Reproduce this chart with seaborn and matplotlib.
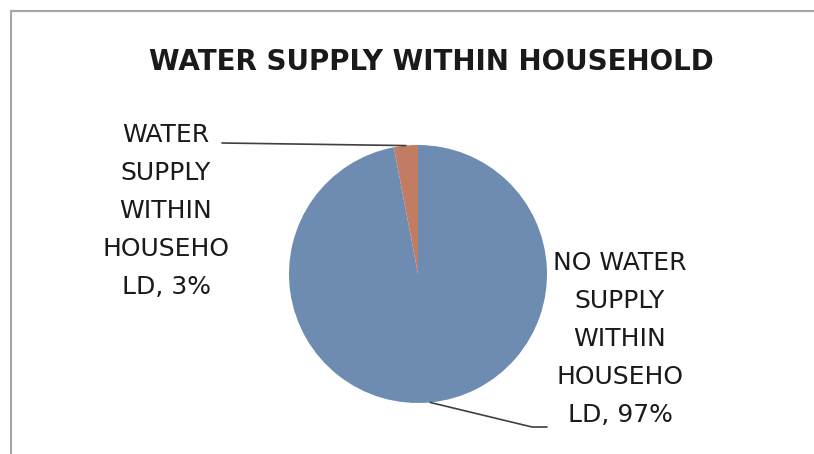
import numpy as np
import matplotlib
matplotlib.use("Agg")
import matplotlib.pyplot as plt
import seaborn as sns
from matplotlib.lines import Line2D

# Data
categories = ["NO WATER SUPPLY WITHIN HOUSEHOLD", "WATER SUPPLY WITHIN HOUSEHOLD"]
shares = [97, 3]
label_texts = ["NO WATER\nSUPPLY\nWITHIN\nHOUSEHO\nLD, 97%", "WATER\nSUPPLY\nWITHIN\nHOUSEHO\nLD, 3%"]
title = "WATER SUPPLY WITHIN HOUSEHOLD"

sns.set_theme(style="white")
plt.rcParams['font.family'] = ['DejaVu Sans']
colors = sns.color_palette(["#6E8BB1", "#C27C64"])

W, H = 814, 454
fig = plt.figure(figsize=(W / 100, H / 100), dpi=100)
fig.patch.set_facecolor("white")
ax = fig.add_axes([0, 0, 1, 1])

cx, cy, r = 418, H - 274, 129
wedges, _ = ax.pie(shares, colors=colors, startangle=90, counterclock=False,
                   center=(cx, cy), radius=r,
                   wedgeprops=dict(linewidth=0))
ax.set_xlim(0, W)
ax.set_ylim(0, H)
ax.set_aspect("equal")
ax.axis("off")

# leader anchors from wedge mid-angles
def anchor(w):
    a = np.deg2rad((w.theta1 + w.theta2) / 2)
    return cx + r * np.cos(a), cy + r * np.sin(a)

# right label (97%)
ax.text(620, H - 339, label_texts[0], ha="center", va="center", fontsize=18,
        linespacing=1.74, color="#1a1a1a")
ax0 = anchor(wedges[0])
ax.plot([ax0[0], 532, 547], [ax0[1], H - 427, H - 427], color="#404040", lw=1.2)

# left label (3%)
ax.text(166, H - 211, label_texts[1], ha="center", va="center", fontsize=18,
        linespacing=1.74, color="#1a1a1a")
ax1 = anchor(wedges[1])
ax.plot([222, ax1[0]], [H - 143, ax1[1]], color="#404040", lw=1.2)

ax.text(431, H - 62, title, ha="center", va="center", fontsize=20,
        fontweight="bold", color="#1a1a1a")

# chart border (top and left visible)
fig.add_artist(Line2D([11 / W, 1], [1 - 11 / H, 1 - 11 / H], color="#A6A6A6", lw=1.5,
                      transform=fig.transFigure))
fig.add_artist(Line2D([11 / W, 11 / W], [0, 1 - 11 / H], color="#A6A6A6", lw=1.5,
                      transform=fig.transFigure))

fig.savefig("out.png", dpi=100, facecolor="white")
